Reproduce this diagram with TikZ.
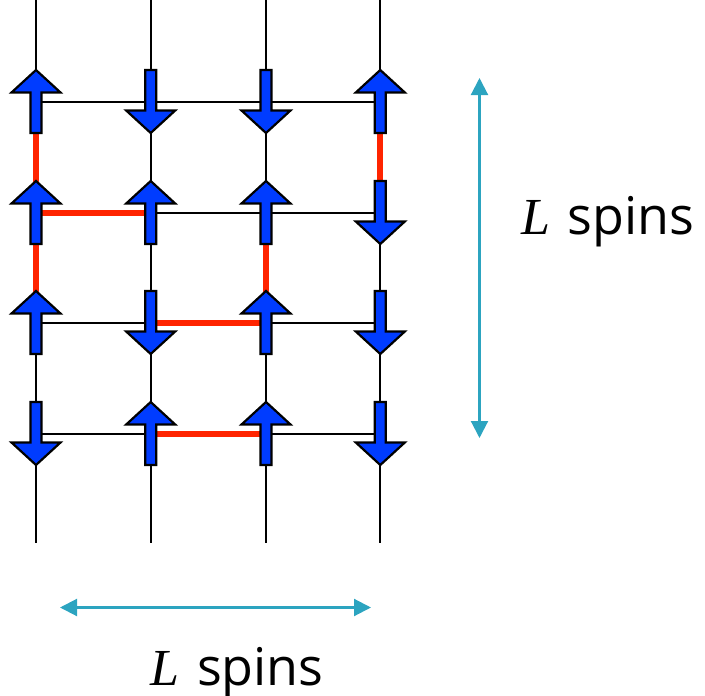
\documentclass[tikz,border=0pt]{standalone}
\usepackage{fontspec}
\setmainfont{Open Sans}
\newfontfamily\lfont{Liberation Serif}
\usetikzlibrary{arrows.meta}
\definecolor{spinblue}{RGB}{0,60,255}
\definecolor{bondred}{RGB}{255,36,0}
\definecolor{dimcyan}{RGB}{44,164,192}
\tikzset{
 lattice/.style={line width=2pt, black},
 bond/.style={line width=6pt, bondred},
 spinshape/.style={fill=spinblue, draw=black, line width=2.2pt, line join=miter},
 dimarrow/.style={line width=2.1pt, dimcyan, {Triangle[width=17pt,length=17pt]}-{Triangle[width=17pt,length=17pt]}},
 spinlabel/.style={anchor=base west, inner sep=0pt, font=\fontsize{52}{60}\selectfont},
 spinup/.pic={\path[spinshape] (-5.5,31.5) -- (-5.5,-9) -- (-24.5,-9) -- (0,-31.5) -- (24.5,-9) -- (5.5,-9) -- (5.5,31.5) -- cycle;},
 spindown/.pic={\path[spinshape] (-5.5,-31.5) -- (-5.5,9) -- (-24.5,9) -- (0,31.5) -- (24.5,9) -- (5.5,9) -- (5.5,-31.5) -- cycle;}
}
\begin{document}
\begin{tikzpicture}[x=1pt,y=-1pt]
\useasboundingbox (0,0) rectangle (705,696);
% sites
\foreach \c/\x in {1/36,2/150.7,3/266,4/380.3}{
  \coordinate (top\c) at (\x,0);
  \coordinate (bot\c) at (\x,543);
  \foreach \r/\y in {1/101.5,2/212.5,3/322.5,4/433.5}{
    \coordinate (s\r\c) at (\x,\y);
  }
}
% lattice
\foreach \c in {1,2,3,4}{ \draw[lattice] (top\c) -- (bot\c); }
\foreach \r in {1,2,3,4}{ \draw[lattice] (s\r1) -- (s\r4); }
% singlet bonds
\draw[bond] (s11) -- (s21);
\draw[bond] (s14) -- (s24);
\draw[bond] (s21) -- (s22);
\draw[bond] (s21) -- (s31);
\draw[bond] (s23) -- (s33);
\draw[bond] (s32) -- (s33);
\draw[bond] (s42) -- (s43);
% spins
\foreach \s/\d in {11/up,12/down,13/down,14/up,
                   21/up,22/up,23/up,24/down,
                   31/up,32/down,33/up,34/down,
                   41/down,42/up,43/up,44/down}{
  \pic at (s\s) {spin\d};
}
% dimension arrows
\coordinate (va) at (479.5,78);
\coordinate (vb) at (479.5,438);
\draw[dimarrow] (va) -- (vb);
\coordinate (ha) at (60,607.5);
\coordinate (hb) at (371,607.5);
\draw[dimarrow] (ha) -- (hb);
% labels
\node[spinlabel] (lv) at (521,234) {{\lfont\itshape L}\hspace{17.5pt}spins};
\node[spinlabel] (lh) at (150,685) {{\lfont\itshape L}\hspace{18pt}spins};
\end{tikzpicture}
\end{document}
